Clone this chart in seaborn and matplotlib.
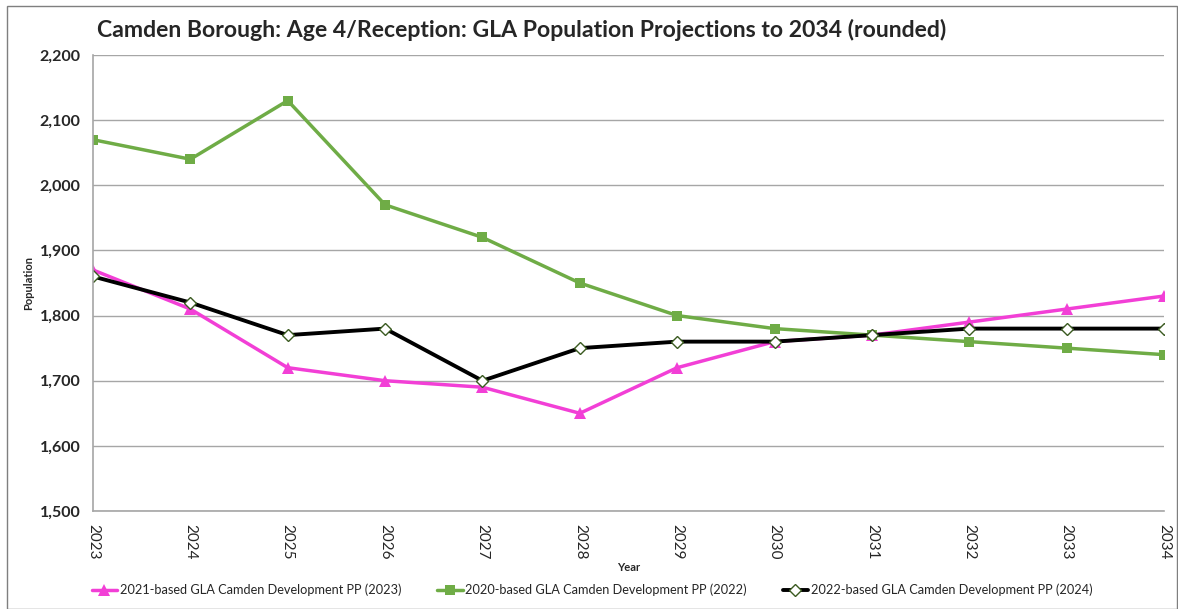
import numpy as np
import pandas as pd
import matplotlib
matplotlib.use("Agg")
import matplotlib.pyplot as plt
import seaborn as sns
from matplotlib.ticker import FuncFormatter

years = [2023, 2024, 2025, 2026, 2027, 2028, 2029, 2030, 2031, 2032, 2033, 2034]
pp2021 = [1870, 1810, 1720, 1700, 1690, 1650, 1720, 1760, 1770, 1790, 1810, 1830]
pp2020 = [2070, 2040, 2130, 1970, 1920, 1850, 1800, 1780, 1770, 1760, 1750, 1740]
pp2022 = [1860, 1820, 1770, 1780, 1700, 1750, 1760, 1760, 1770, 1780, 1780, 1780]

names = ["2021-based GLA Camden Development PP (2023)",
         "2020-based GLA Camden Development PP (2022)",
         "2022-based GLA Camden Development PP (2024)"]

sns.set_style("white")
plt.rcParams["font.family"] = ["Lato", "DejaVu Sans"]

fig = plt.figure(figsize=(11.78, 6.09), dpi=100)
ax = fig.add_axes([93/1178, 98/609, (1164-93)/1178, (511-55)/609])

# 系列数据
styles = [(pp2021, "#F23FD6", "^", "#F23FD6", 9),
          (pp2020, "#6FAC46", "s", "#6FAC46", 7.5),
          (pp2022, "black", "D", "white", 6)]
for (vals, col, mk, fc, ms), nm in zip(styles, names):
    df = pd.DataFrame({"Year": years, "Population": vals})
    sns.lineplot(data=df, x="Year", y="Population", ax=ax, color=col,
                 lw=2.8 if mk == "D" else 2.5,
                 marker=mk, markersize=ms, markerfacecolor=fc,
                 markeredgecolor=col if mk != "D" else "#3a5a20",
                 markeredgewidth=1 if mk == "D" else 0, label=nm)

ax.set_xlim(2023, 2034)
ax.set_ylim(1500, 2200)
ax.set_yticks(range(1500, 2201, 100))
ax.yaxis.set_major_formatter(FuncFormatter(lambda v, p: f"{int(v):,}"))
ax.set_xticks(years)
ax.set_xticklabels([str(y) for y in years], rotation=270, fontsize=11)
for t in ax.get_yticklabels():
    t.set_fontweight("bold")
    t.set_fontsize(11.5)
ax.grid(axis="y", color="#a6a6a6", lw=1)
for s in ["top", "right"]:
    ax.spines[s].set_visible(False)
for s in ["left", "bottom"]:
    ax.spines[s].set_color("#a6a6a6")
    ax.spines[s].set_linewidth(1.2)
ax.tick_params(axis="both", direction="out", length=5, color="#a6a6a6", width=1, pad=4)
ax.tick_params(axis="x", pad=4)
ax.set_xlabel("Year", fontsize=8, fontweight="bold", labelpad=2)
ax.set_ylabel("Population", fontsize=8, fontweight="bold", labelpad=4)

fig.text(97/1178, 1 - 30/609, "Camden Borough: Age 4/Reception: GLA Population Projections to 2034 (rounded)",
         fontsize=16.6, fontweight="bold", va="center", ha="left")

ax.legend(loc="center", ncol=3, frameon=False, fontsize=9.2, handlelength=2,
          handletextpad=0.2, columnspacing=2.8,
          bbox_to_anchor=(592/1178, 1 - 590/609), bbox_transform=fig.transFigure)

# 外框
fig.patches.append(plt.Rectangle((7/1178, 0), 1 - 8/1178, 1 - 6/609, transform=fig.transFigure,
                                 fill=False, edgecolor="#7f7f7f", lw=1))

fig.savefig("out.png", dpi=100)
